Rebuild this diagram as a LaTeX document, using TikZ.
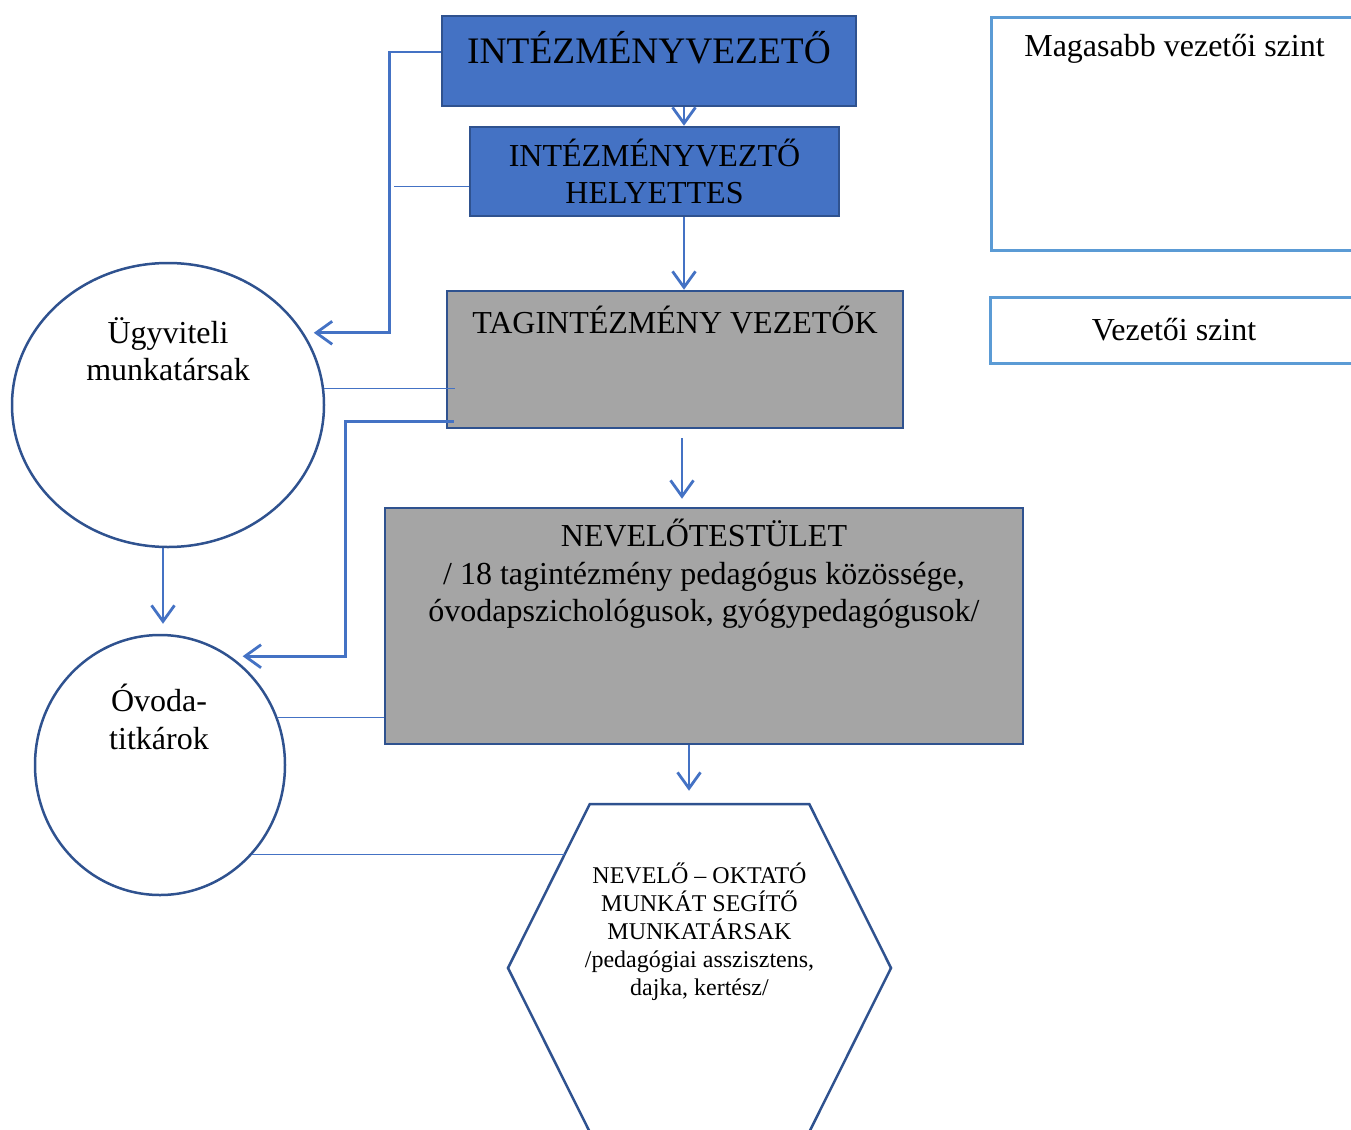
\documentclass[tikz,border=0pt]{standalone}
\usepackage{fontspec}
\setmainfont{Liberation Serif}
\usetikzlibrary{arrows.meta,shapes.geometric,shapes.symbols}
\definecolor{org_blue}{HTML}{4472C4}
\definecolor{org_dark}{HTML}{2F528F}
\definecolor{org_gray}{HTML}{A5A5A5}
\definecolor{org_light}{HTML}{5B9BD5}
\newcommand{\bigfont}{\fontsize{37.4}{44}\selectfont}
\newcommand{\midfont}{\fontsize{32}{37.5}\selectfont}
\newcommand{\smallfont}{\fontsize{24}{28}\selectfont}
\tikzstyle{bluebox}=[rectangle,fill=org_blue,draw=org_dark,line width=2.5pt,
  align=center,inner sep=0pt]
\tikzstyle{graybox}=[rectangle,fill=org_gray,draw=org_dark,line width=2.5pt,
  inner sep=0pt]
\tikzstyle{staff}=[ellipse,draw=org_dark,line width=2.5pt,inner sep=0pt]
\tikzstyle{hexbox}=[signal,signal to=west and east,signal pointer angle=127,
  draw=org_dark,line width=2.5pt,inner sep=0pt]
\tikzstyle{tierbox}=[rectangle,draw=org_light,line width=3pt,inner sep=0pt]
\tikzstyle{link}=[draw=org_blue,line width=2.8pt,
  -{Straight Barb[length=16pt,width=23pt]}]
\tikzstyle{wire}=[draw=org_blue,line width=1.3pt]
\tikzstyle{none}=[align=center,inner sep=0pt]

\begin{document}
\begin{tikzpicture}[x=1pt,y=-1pt,font=\midfont]
        \useasboundingbox (0,0) rectangle (1351,1129);
        \clip (0,0) rectangle (1351,1129);
        \node [style=bluebox, minimum width=414pt, minimum height=90pt] (vez) at (649, 61) {};
        \node [style=bluebox, minimum width=369pt, minimum height=89pt] (helyettes) at (654.5, 171.5) {INTÉZMÉNYVEZTŐ\\HELYETTES};
        \node [style=graybox, minimum width=456pt, minimum height=137pt] (tag) at (675, 359.5) {};
        \node [style=graybox, minimum width=638pt, minimum height=236pt] (nevelo) at (704, 626) {};
        \node [style=staff, minimum width=312pt, minimum height=284pt] (ugy) at (168, 405) {};
        \node [style=staff, minimum width=250pt, minimum height=260pt] (titk) at (160, 765) {};
        \node [style=hexbox, minimum width=383pt, minimum height=328pt] (hex) at (699.5, 968) {};
        \node [style=tierbox, minimum width=367pt, minimum height=232pt] (magas) at (1174.5, 134) {};
        \node [style=tierbox, minimum width=368pt, minimum height=66pt] (szint) at (1174, 330) {Vezetői szint};
        \node [style=none, font=\bigfont] (vez label) at (649, 48) {INTÉZMÉNYVEZETŐ};
        \node [style=none] (tag label) at (675, 320) {TAGINTÉZMÉNY VEZETŐK};
        \node [style=none] (nevelo label) at (704, 574) {NEVELŐTESTÜLET\\/ 18 tagintézmény pedagógus közössége,\\óvodapszichológusok, gyógypedagógusok/};
        \node [style=none, font=\smallfont] (hex label) at (699.5, 932) {NEVELŐ – OKTATÓ\\MUNKÁT SEGÍTŐ\\MUNKATÁRSAK\\/pedagógiai asszisztens,\\dajka, kertész/};
        \node [style=none] (ugy label) at (168, 349) {Ügyviteli\\munkatársak};
        \node [style=none] (titk label) at (159, 717) {Óvoda-\\titkárok};
        \node [style=none] (magas label) at (1174.5, 49) {Magasabb vezetői szint};
        \draw [style=link] ([xshift=35pt]vez.south) to ([xshift=29.5pt]helyettes.north);
        \draw [style=link] ([xshift=29.5pt]helyettes.south) to ([xshift=9pt]tag.north);
        \draw [style=link] ([xshift=7pt,yshift=-9pt]tag.south) to ([xshift=-22pt,yshift=8pt]nevelo.north);
        \draw [style=link] ([xshift=-15pt]nevelo.south) to ([xshift=-10.5pt,yshift=12pt]hex.north);
        \draw [style=link] ([xshift=-5pt]ugy.south) to ([xshift=3pt,yshift=10pt]titk.north);
        \draw [style=link, shorten >=10pt] (vez.west) ++(0,-9) -- ++(-51,0) |- (ugy.28);
        \draw [style=link, shorten >=12pt] (tag.south west) ++(8,-8) -- ++(-108,0) |- (titk.57);
        \draw [style=wire] ([yshift=-15pt]helyettes.west) -- ++(-75,0);
        \draw [style=wire] (ugy.6) -- (tag.west |- ugy.6) -- ++(9,0);
        \draw [style=wire] (titk.22) -- (nevelo.west |- titk.22);
        \draw [style=wire] (titk.-44) -- (titk.-44 -| hex.139.9);
    \end{tikzpicture}
\end{document}
